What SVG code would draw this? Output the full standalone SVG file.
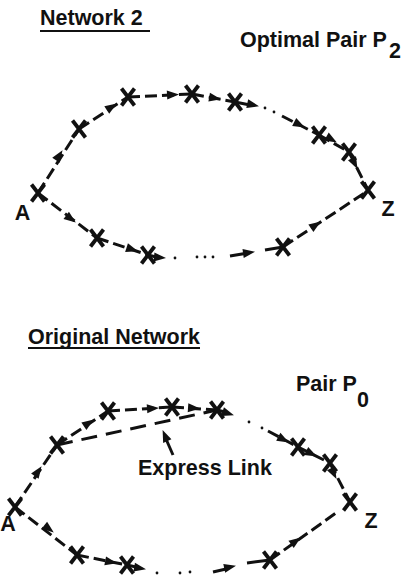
<svg xmlns="http://www.w3.org/2000/svg" xmlns:xlink="http://www.w3.org/1999/xlink" width="407" height="578" viewBox="0 0 407 578">
  <style>
    text { font-family: "Liberation Sans", Arial, Helvetica, sans-serif; font-size: 21.5px; font-weight: bold; fill: #111; }
    .link { stroke: #111; stroke-width: 3; fill: none; stroke-dasharray: 12 5; }
    .solid { stroke: #111; stroke-width: 3; fill: none; }
    .express { stroke: #111; stroke-width: 3; fill: none; stroke-dasharray: 16 9; }
    .dot { fill: #111; }
    .ul { stroke: #111; stroke-width: 2.2; }
  </style>
  <defs>
    <path id="xmark" d="M-6.5,-8.5 L6.5,8.5 M6.5,-8.5 L-6.5,8.5" stroke="#111" stroke-width="3.8" fill="none"/>
    <polygon id="ah" points="1,0 -11,-4.5 -11,4.5" fill="#111"/>
  </defs>
  <rect width="407" height="578" fill="#fff"/>

  <!-- headings -->
  <g id="titles">
    <text x="40" y="25">Network 2</text>
    <line class="ul" x1="40" y1="31" x2="150" y2="31"/>
    <text x="240" y="47">Optimal Pair P</text>
    <text x="389" y="58">2</text>
    <text x="28" y="344">Original Network</text>
    <line class="ul" x1="28" y1="348" x2="200" y2="348"/>
    <text x="296" y="391">Pair P</text>
    <text x="357" y="407">0</text>
  </g>

  <!-- connectors -->
  <g id="connectors">
    <!-- network 2, upper route -->
    <line class="link" x1="38" y1="193" x2="79" y2="129"/>
    <use xlink:href="#ah" transform="translate(62,151) rotate(-57)"/>
    <line class="link" x1="79" y1="129" x2="128" y2="97"/>
    <use xlink:href="#ah" transform="translate(116,104) rotate(-33)"/>
    <line class="link" x1="128" y1="97" x2="192" y2="94"/>
    <use xlink:href="#ah" transform="translate(178,94.5) rotate(-3)"/>
    <line class="link" x1="192" y1="94" x2="235" y2="102"/>
    <use xlink:href="#ah" transform="translate(220,99) rotate(10)"/>
    <line class="solid" x1="235" y1="102" x2="250" y2="105"/>
    <use xlink:href="#ah" transform="translate(258,106) rotate(12)"/>
    <circle class="dot" cx="265" cy="108" r="1.4"/>
    <circle class="dot" cx="274" cy="112" r="1.4"/>
    <line class="link" x1="282" y1="116" x2="319" y2="135"/>
    <use xlink:href="#ah" transform="translate(304,127) rotate(27)"/>
    <line class="link" x1="319" y1="135" x2="349" y2="152"/>
    <use xlink:href="#ah" transform="translate(336,142) rotate(30)"/>
    <line class="link" x1="349" y1="152" x2="368" y2="190"/>
    <use xlink:href="#ah" transform="translate(357,168) rotate(63)"/>

    <!-- network 2, lower route -->
    <line class="link" x1="38" y1="193" x2="97" y2="238"/>
    <use xlink:href="#ah" transform="translate(75,222) rotate(37)"/>
    <line class="link" x1="97" y1="238" x2="148" y2="255"/>
    <use xlink:href="#ah" transform="translate(137,251) rotate(18)"/>
    <line class="solid" x1="148" y1="255" x2="156" y2="257"/>
    <use xlink:href="#ah" transform="translate(165,258) rotate(5)"/>
    <circle class="dot" cx="175" cy="258" r="1.4"/>
    <circle class="dot" cx="197" cy="257" r="1.4"/>
    <circle class="dot" cx="205" cy="257" r="1.4"/>
    <circle class="dot" cx="213" cy="257" r="1.4"/>
    <line class="solid" x1="230" y1="256" x2="245" y2="253.5"/>
    <use xlink:href="#ah" transform="translate(254,252) rotate(-8)"/>
    <line class="solid" x1="265" y1="250" x2="283" y2="247"/>
    <line class="link" x1="283" y1="247" x2="366" y2="192"/>
    <use xlink:href="#ah" transform="translate(320,222) rotate(-34)"/>

    <!-- original network, upper route -->
    <line class="link" x1="15" y1="507" x2="57" y2="445"/>
    <use xlink:href="#ah" transform="translate(41,467) rotate(-56)"/>
    <line class="link" x1="57" y1="445" x2="108" y2="411"/>
    <use xlink:href="#ah" transform="translate(93,420) rotate(-34)"/>
    <line class="link" x1="108" y1="411" x2="172" y2="407"/>
    <use xlink:href="#ah" transform="translate(158,408) rotate(-4)"/>
    <line class="link" x1="172" y1="407" x2="217" y2="410"/>
    <use xlink:href="#ah" transform="translate(199,408.5) rotate(4)"/>
    <line class="solid" x1="217" y1="410" x2="225" y2="412"/>
    <use xlink:href="#ah" transform="translate(233,415) rotate(18)"/>
    <circle class="dot" cx="249" cy="422" r="1.4"/>
    <circle class="dot" cx="262" cy="428" r="1.4"/>
    <line class="link" x1="268" y1="431" x2="298" y2="447"/>
    <use xlink:href="#ah" transform="translate(288,442) rotate(28)"/>
    <line class="link" x1="298" y1="447" x2="330" y2="463"/>
    <use xlink:href="#ah" transform="translate(316,456) rotate(27)"/>
    <line class="link" x1="330" y1="463" x2="350" y2="502"/>
    <use xlink:href="#ah" transform="translate(336,478) rotate(63)"/>

    <!-- express link and its pointer -->
    <line class="express" x1="57" y1="445" x2="217" y2="410"/>
    <line class="solid" x1="173" y1="455" x2="166" y2="439"/>
    <use xlink:href="#ah" transform="translate(163,431) rotate(-113)"/>

    <!-- original network, lower route -->
    <line class="link" x1="15" y1="507" x2="77" y2="555"/>
    <use xlink:href="#ah" transform="translate(53,532) rotate(38)"/>
    <line class="link" x1="77" y1="555" x2="127" y2="565"/>
    <use xlink:href="#ah" transform="translate(116,563) rotate(11)"/>
    <line class="solid" x1="127" y1="565" x2="136" y2="567"/>
    <use xlink:href="#ah" transform="translate(145,569) rotate(10)"/>
    <circle class="dot" cx="157" cy="573" r="1.4"/>
    <circle class="dot" cx="180" cy="573" r="1.4"/>
    <circle class="dot" cx="190" cy="572" r="1.4"/>
    <line class="solid" x1="213" y1="572" x2="226" y2="569"/>
    <use xlink:href="#ah" transform="translate(235,566) rotate(-12)"/>
    <line class="solid" x1="247" y1="563" x2="270" y2="560"/>
    <line class="link" x1="270" y1="560" x2="336" y2="513"/>
    <use xlink:href="#ah" transform="translate(300,538) rotate(-36)"/>
  </g>

  <!-- network 2 nodes -->
  <g id="n2-A"><use xlink:href="#xmark" x="38" y="193"/><text x="22.5" y="220" text-anchor="middle">A</text></g>
  <g id="n2-u1"><use xlink:href="#xmark" x="79" y="129"/></g>
  <g id="n2-u2"><use xlink:href="#xmark" x="128" y="97"/></g>
  <g id="n2-u3"><use xlink:href="#xmark" x="192" y="94"/></g>
  <g id="n2-u4"><use xlink:href="#xmark" x="235" y="102"/></g>
  <g id="n2-u5"><use xlink:href="#xmark" x="319" y="135"/></g>
  <g id="n2-u6"><use xlink:href="#xmark" x="349" y="152"/></g>
  <g id="n2-Z"><use xlink:href="#xmark" x="368" y="190"/><text x="388" y="216" text-anchor="middle">Z</text></g>
  <g id="n2-l1"><use xlink:href="#xmark" x="97" y="238"/></g>
  <g id="n2-l2"><use xlink:href="#xmark" x="148" y="255"/></g>
  <g id="n2-l3"><use xlink:href="#xmark" x="283" y="247"/></g>

  <!-- original network nodes -->
  <g id="n0-A"><use xlink:href="#xmark" x="15" y="507"/><text x="8" y="531" text-anchor="middle">A</text></g>
  <g id="n0-u1"><use xlink:href="#xmark" x="57" y="445"/></g>
  <g id="n0-u2"><use xlink:href="#xmark" x="108" y="411"/></g>
  <g id="n0-u3"><use xlink:href="#xmark" x="172" y="407"/></g>
  <g id="n0-u4"><use xlink:href="#xmark" x="217" y="410"/></g>
  <g id="n0-u5"><use xlink:href="#xmark" x="298" y="447"/></g>
  <g id="n0-u6"><use xlink:href="#xmark" x="330" y="463"/></g>
  <g id="n0-Z"><use xlink:href="#xmark" x="350" y="502"/><text x="371" y="528" text-anchor="middle">Z</text></g>
  <g id="n0-l1"><use xlink:href="#xmark" x="77" y="555"/></g>
  <g id="n0-l2"><use xlink:href="#xmark" x="127" y="565"/></g>
  <g id="n0-l3"><use xlink:href="#xmark" x="270" y="560"/></g>

  <g id="express-label"><text x="138" y="475">Express Link</text></g>
</svg>
